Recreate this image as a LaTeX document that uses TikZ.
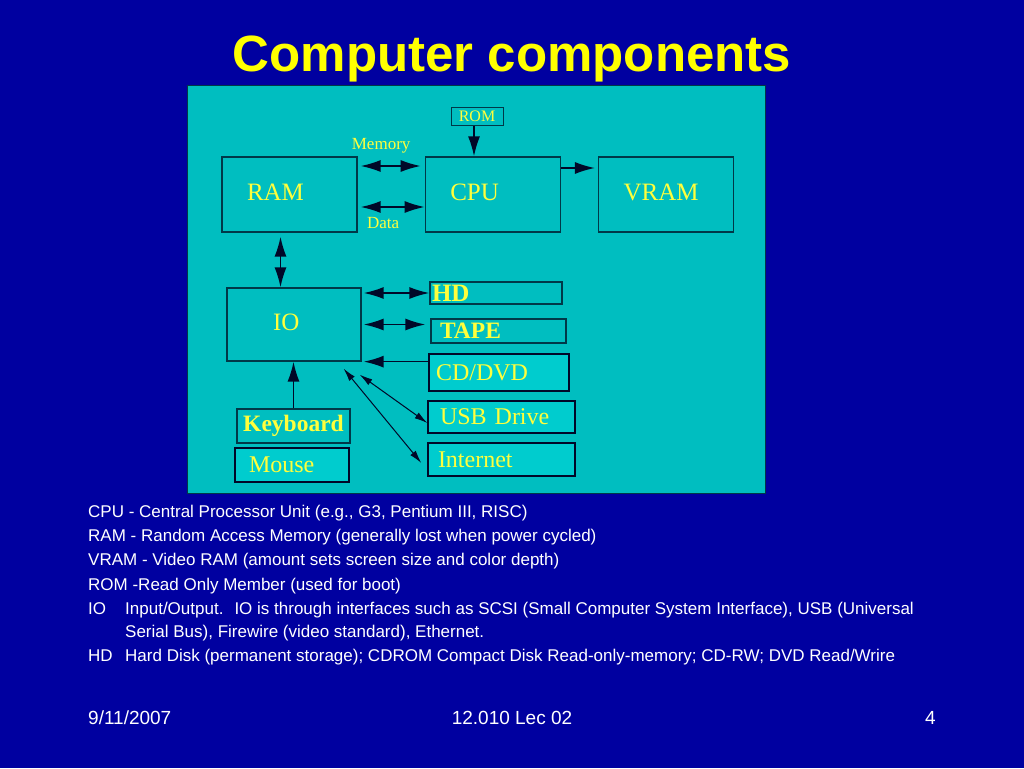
\documentclass[tikz,border=0pt]{standalone}
\usepackage{fontspec}
\setmainfont{Liberation Serif}
\setsansfont{Liberation Sans}
\usetikzlibrary{arrows.meta,positioning}
\definecolor{slide}{RGB}{0,0,160}
\definecolor{panel}{RGB}{0,190,192}
\definecolor{bright}{RGB}{0,204,206}
\definecolor{edge}{RGB}{0,56,72}
\definecolor{ink}{RGB}{0,8,40}
\definecolor{label}{RGB}{255,255,60}
\definecolor{headline}{RGB}{255,255,0}
\tikzstyle{unit}=[draw=edge,line width=1.3pt,fill=panel,text=label,font=\fontsize{25}{25}\selectfont,minimum height=75pt,inner ysep=0pt,inner xsep=25pt,text width=85pt,text depth=4pt,align=left]
\tikzstyle{slot}=[draw=edge,line width=1.3pt,fill=panel,text=label,inner ysep=0pt,align=left]
\tikzstyle{port}=[slot,fill=bright,draw=ink,font=\fontsize{24}{24}\selectfont]
\tikzstyle{bus}=[line width=1.6pt,draw=ink,>={Latex[length=20pt,width=12pt]}]
\tikzstyle{wire}=[line width=1pt,draw=ink,>={Latex[length=13pt,width=7pt]}]
\tikzstyle{note}=[text=label,font=\fontsize{17}{17}\selectfont,inner sep=0pt]
\tikzstyle{body}=[text=white,font=\sffamily\fontsize{17}{17}\selectfont,anchor=base west,inner sep=0pt]
\tikzstyle{foot}=[text=white,font=\sffamily\fontsize{19}{19}\selectfont,inner sep=0pt]

\begin{document}
\begin{tikzpicture}[x=1pt,y=-1pt]
\useasboundingbox[fill=slide] (0,0) rectangle (1024,768);
\node[text=headline,font=\sffamily\bfseries\fontsize{51}{51}\selectfont,anchor=base,inner sep=0pt] (title) at (512,71) {Computer components};
\node[fill=panel,draw=edge,line width=0.8pt,minimum width=578pt,minimum height=408pt,anchor=north west,inner sep=0pt] (board) at (187,85) {};
% main units
\node[unit] (RAM) at (289.5,194.5) {RAM};
\node[unit,right=67pt of RAM] (CPU) {CPU};
\node[unit,right=37pt of CPU] (VRAM) {VRAM};
\node[unit,inner xsep=46pt,text width=42pt,minimum height=73pt] (IO) at (294,324.5) {IO};
\node[slot,font=\fontsize{16}{16}\selectfont,line width=1pt,minimum width=52pt,minimum height=18pt,inner xsep=0pt] (ROM) at (477,116) {ROM};
% devices
\node[slot,font=\bfseries\fontsize{25}{25}\selectfont,inner xsep=2pt,text width=128pt,minimum height=22pt] (HD) at (496,293) {HD};
\node[slot,font=\bfseries\fontsize{23.5}{23.5}\selectfont,inner xsep=9pt,text width=117pt,minimum height=24pt] (TAPE) at (498.5,331) {TAPE};
\node[port,inner xsep=7pt,text width=126pt,minimum height=37pt] (CD) at (499,372.5) {CD/DVD};
\node[port,inner xsep=12pt,text width=123pt,minimum height=32pt] (USB) at (501.5,417) {USB Drive};
\node[port,inner xsep=10pt,text width=127pt,minimum height=33pt] (Internet) at (501.5,459.5) {Internet};
\node[slot,font=\bfseries\fontsize{23.5}{23.5}\selectfont,align=center,minimum width=113pt,minimum height=34pt] (Keyboard) at (293.5,426) {Keyboard};
\node[port,inner xsep=14pt,text width=86pt,minimum height=34pt] (Mouse) at (292,465) {Mouse};
% connections
\coordinate (ramdrop) at ([xshift=-9pt]RAM.south);
\draw[bus,<->,shorten <=3pt,shorten >=4pt] ([yshift=28.5pt]RAM.east) -- node[note,above=12pt,xshift=-10pt]{Memory} ([yshift=28.5pt]CPU.west);
\draw[bus,<->,shorten <=3pt] ([yshift=-12.5pt]RAM.east) -- node[note,below=10pt,xshift=-8pt]{Data} ([yshift=-12.5pt]CPU.west);
\draw[bus,->] ([xshift=-3pt]ROM.south) -- ([xshift=-3pt]ROM.south |- CPU.north);
\draw[bus,->,shorten >=3pt] ([yshift=26.5pt]CPU.east) -- ([yshift=26.5pt]VRAM.west);
\draw[bus,<->,shorten <=4pt] (ramdrop) -- (ramdrop |- IO.north);
\draw[bus,<->,shorten <=2pt] (IO.east |- HD.west) -- (HD.west);
\draw[bus,<->,shorten <=2pt,shorten >=5pt] (IO.east) -- (IO.east -| TAPE.west);
\draw[bus,->,shorten >=2pt] (CD.west |- IO.south east) -- (IO.south east);
\draw[bus,->] (Keyboard.north) -- (Keyboard.north |- IO.south);
\draw[wire,<->] ([shift={(-2pt,-13pt)}]IO.south east) -- ([yshift=-6pt]USB.west);
\draw[wire,<->] ([shift={(-18pt,-7pt)}]IO.south east) -- ([shift={(-6pt,-3.5pt)}]Internet.west);
% notes below
\node[body] (cpuline) at (88,517) {CPU - Central Processor Unit (e.g., G3, Pentium III, RISC)};
\node[body] (ramline) at (88,541) {RAM - Random Access Memory (generally lost when power cycled)};
\node[body] (vramline) at (88,565.5) {VRAM - Video RAM (amount sets screen size and color depth)};
\node[body] (romline) at (88,590) {ROM -Read Only Member (used for boot)};
\node[body] (iotag) at (88,614.5) {IO};
\node[body] (ioline) at (125,614.5) {Input/Output.~ IO is through interfaces such as SCSI (Small Computer System Interface), USB (Universal};
\node[body] (ioline2) at (125,637) {Serial Bus), Firewire (video standard), Ethernet.};
\node[body] (hdtag) at (88,661) {HD};
\node[body] (hdline) at (125,661) {Hard Disk (permanent storage); CDROM Compact Disk Read-only-memory; CD-RW; DVD Read/Wrire};
% footer
\node[foot,anchor=base west] (date) at (88,724) {9/11/2007};
\node[foot,anchor=base] (course) at (512,724) {12.010 Lec 02};
\node[foot,anchor=base east] (page) at (936,724) {4};
\end{tikzpicture}
\end{document}
